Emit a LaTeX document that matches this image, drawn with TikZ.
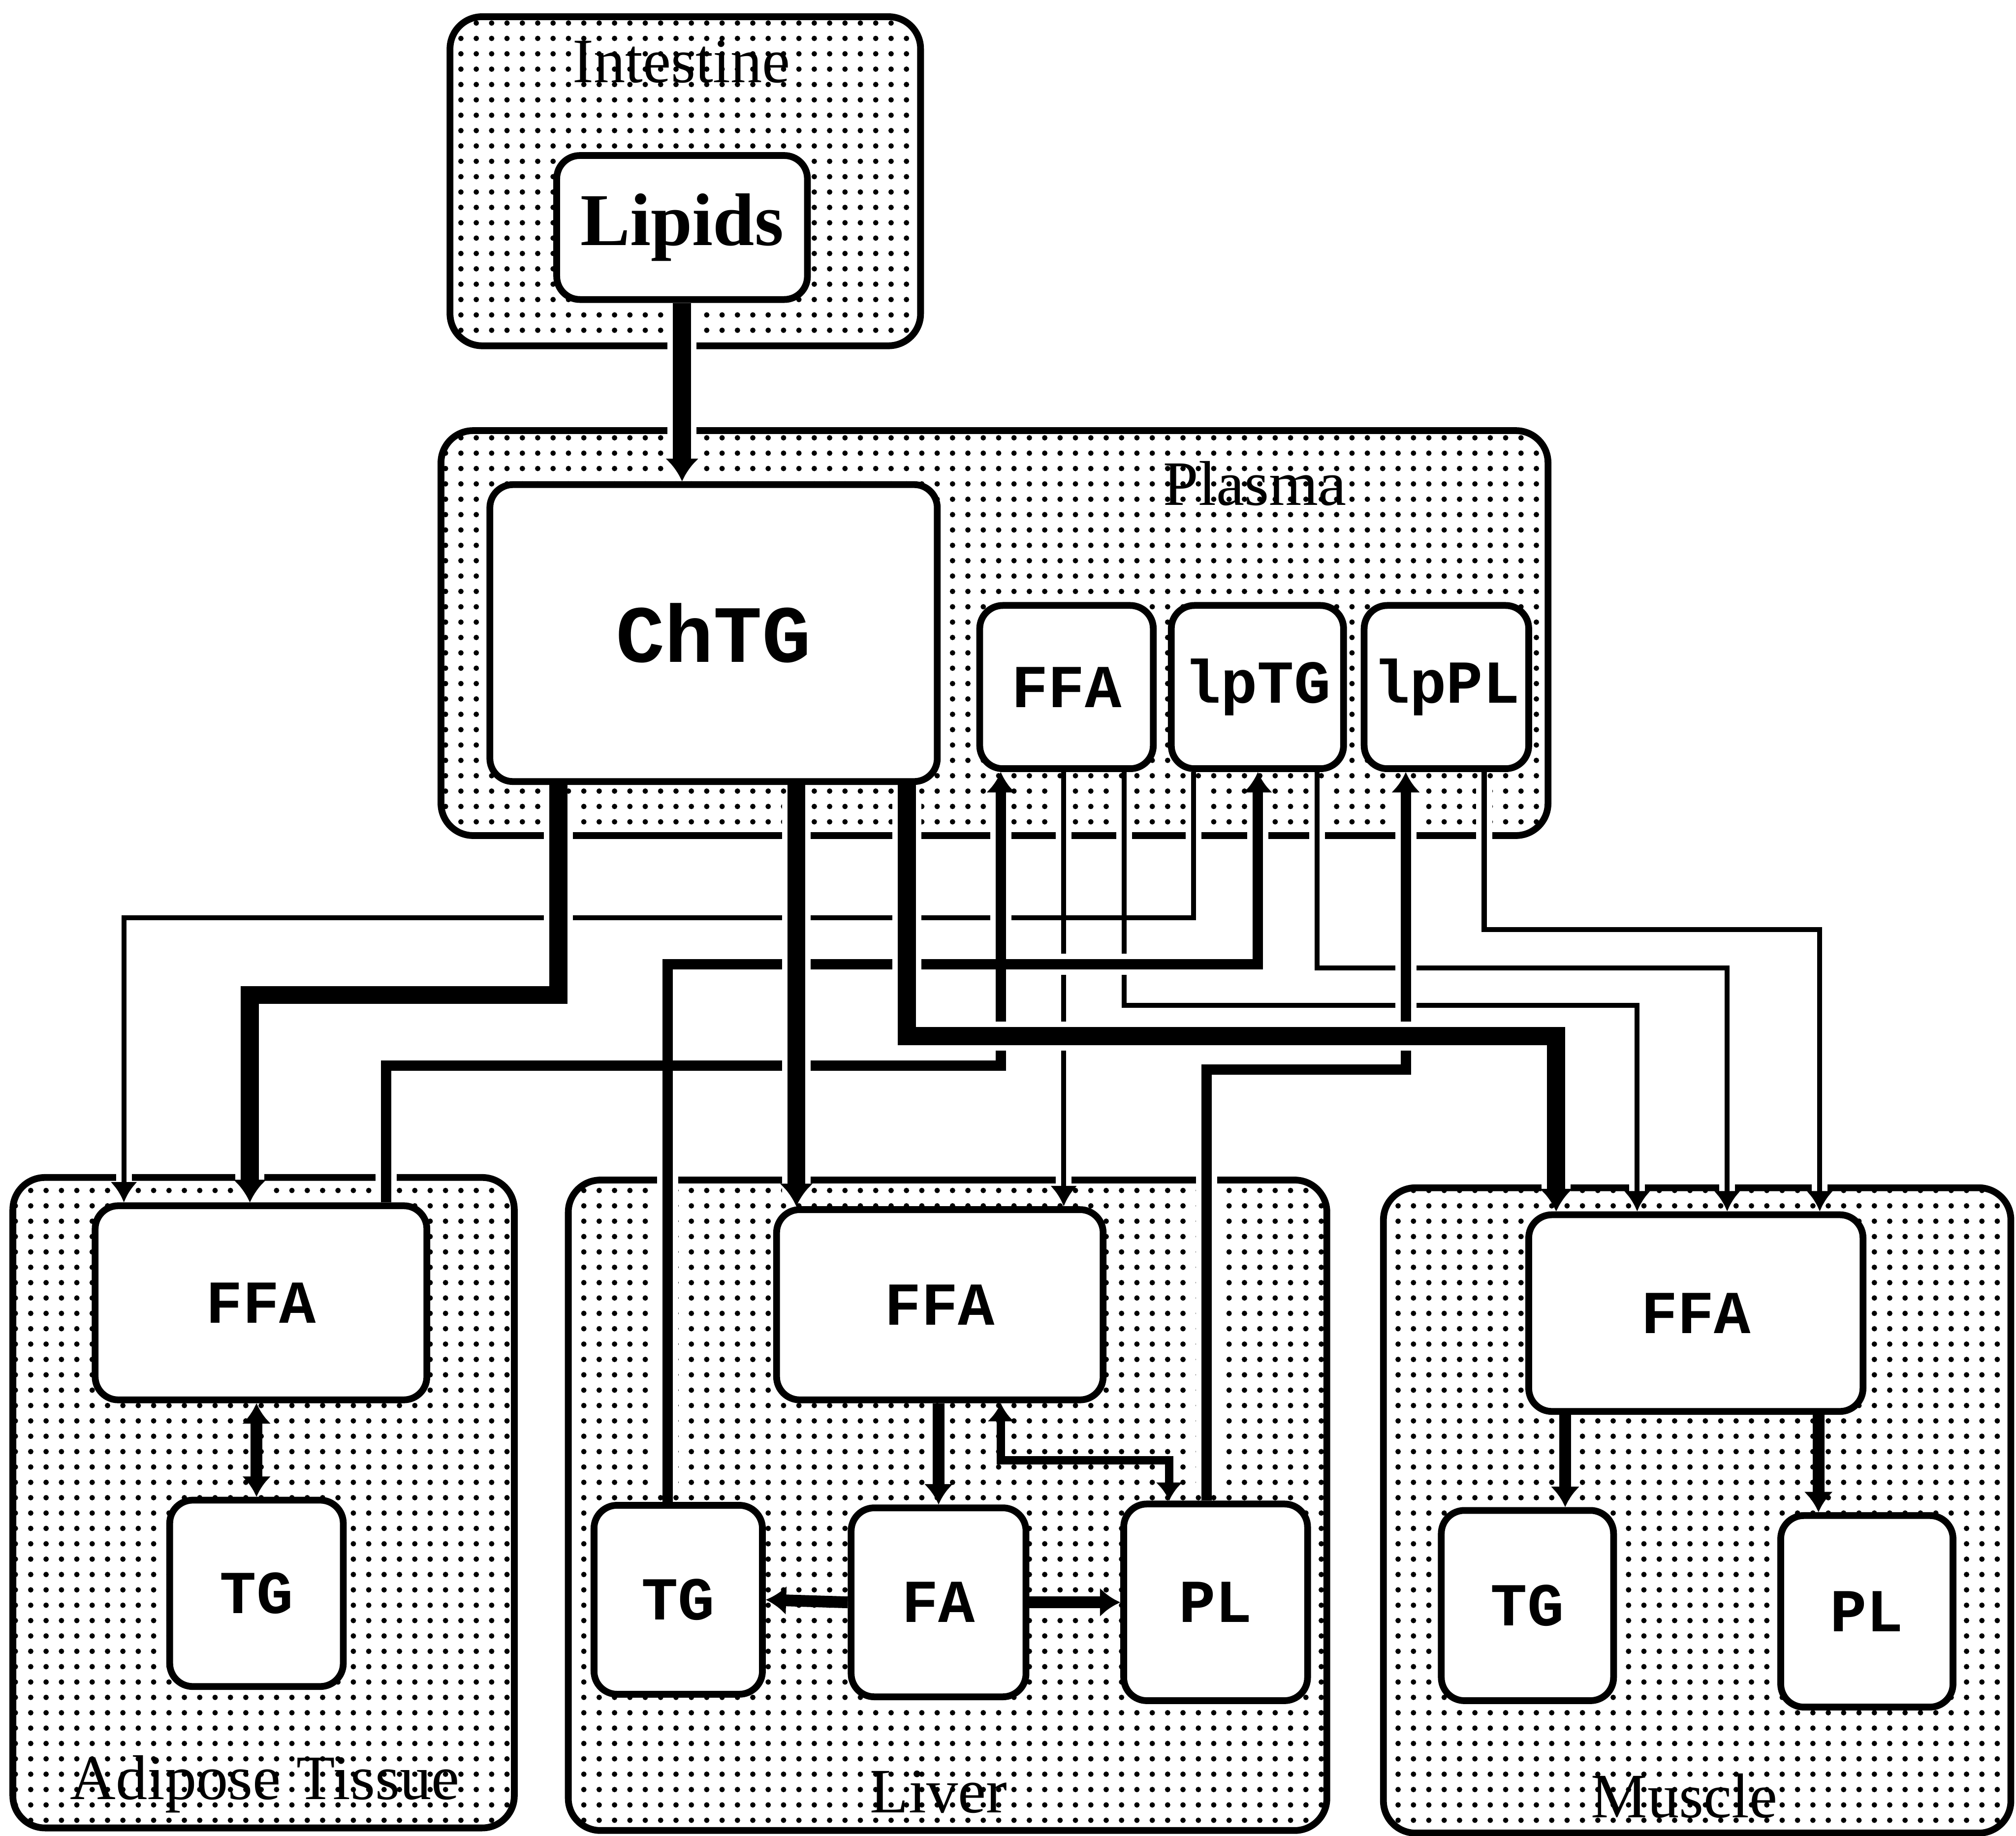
\documentclass[tikz,border=0pt]{standalone}
\usepackage{fontspec}
\setmainfont{Liberation Serif}
\setmonofont{Liberation Mono}
\usepackage{tikz}
\usetikzlibrary{arrows.meta,positioning,calc,patterns.meta}

\tikzset{
  region/.style={draw, line width=1.5pt, rounded corners=2.5mm,
                 pattern={Dots[distance=3.4pt,radius=0.6pt]}},
  cell/.style={draw, fill=white, line width=1.5pt, rounded corners=1.8mm,
               inner sep=0pt, font=\fontsize{13.5}{14}\ttfamily\bfseries},
  rlabel/.style={font=\fontsize{14}{15}\selectfont, inner sep=1pt},
  halo/.style={draw=white, line width=#1, shorten <=2pt, shorten >=2pt},
  thinlink/.style={line width=1.1pt, -{Latex[width=6pt,length=4.5pt]}},
  medlink/.style={line width=2.3pt, -{Latex[width=6.5pt,length=4.5pt]}},
  thicklink/.style={line width=4pt, -{Latex[width=7.5pt,length=5pt]}},
  innerlink/.style={line width=2.6pt, -{Latex[width=6.5pt,length=4.5pt]}},
}

% connectors, drawn twice: once as white halo, once in black
\newcommand\thinlinks[1]{%
  \draw[#1] (pt1) -- (pt1 |- ya) -| (ad1);
  \draw[#1] (pf2) -- (pf2 |- lvffa.north);
  \draw[#1] (pf3) -- (pf3 |- yd) -| (mu2);
  \draw[#1] (pt3) -- (pt3 |- ye) -| (mu3);
  \draw[#1] (pp2) -- (pp2 |- yg) -| (mu4);
}
\newcommand\medlinks[1]{%
  \draw[#1] (lv1) -- (lv1 |- yb) -| (pt2);
  \draw[#1] (ad3) -- (ad3 |- yp) -| (pf1);
  \draw[#1] (lv3) -- (lv3 |- yf) -| (pp1);
}
\newcommand\thicklinks[1]{%
  \draw[#1] (lipids.south) -- (lipids.south |- chtg.north);
  \draw[#1] (ch1) -- (ch1 |- yt2) -| (ad2);
  \draw[#1] (ch2) -- (ch2 |- lvffa.north);
  \draw[#1] (ch3) -- (ch3 |- yt4) -| (mu1);
}

\begin{document}
\begin{tikzpicture}[x=0.1mm, y=-0.1mm]
\useasboundingbox (0,0) rectangle (1568,1428);

% compartments
\draw[region] (350,13) rectangle (716,269);
\draw[region] (343,335) rectangle (1204,650);
\draw[region] (10,916) rectangle (400,1422);
\draw[region] (442,918) rectangle (1032,1424);
\draw[region] (1076,924) rectangle (1564,1426);

\node[rlabel] (intestine) at (530,48) {Intestine};
\node[rlabel] (plasma) at (976,376) {Plasma};
\node[rlabel] (adipose) at (206,1388) {Adipose Tissue};
\node[rlabel] (liver) at (730,1394) {Liver};
\node[rlabel] (muscle) at (1310,1397) {Muscle};

% pools
\node[cell, minimum width=19.5mm, minimum height=11.2mm,
      font=\fontsize{16.5}{18}\rmfamily\bfseries] (lipids) at (530.5,177) {Lipids};
\node[cell, minimum width=34.8mm, minimum height=23.1mm,
      font=\fontsize{18}{20}\ttfamily\bfseries] (chtg) at (555,492.5) {ChTG};
\node[cell, minimum width=13.5mm, minimum height=12.7mm] (pffa) at (829.5,534.5) {FFA};
\node[cell, minimum width=13.4mm, minimum height=12.7mm] (lptg) at (978,534.5) {lpTG};
\node[cell, minimum width=12.8mm, minimum height=12.7mm] (lppl) at (1125,534.5) {lpPL};

\node[cell, minimum width=25.8mm, minimum height=15.1mm] (adffa) at (203,1013.5) {FFA};
\node[cell, minimum width=13.5mm, minimum height=14.5mm] (adtg) at (199.5,1239.5) {TG};

\node[cell, minimum width=25.4mm, minimum height=14.8mm] (lvffa) at (731,1015) {FFA};
\node[cell, minimum width=13.1mm, minimum height=14.7mm] (lvtg) at (527.5,1244.5) {TG};
\node[cell, minimum width=13.6mm, minimum height=14.7mm] (lvfa) at (730,1246.5) {FA};
\node[cell, minimum width=14.3mm, minimum height=15.3mm] (lvpl) at (945.5,1246.5) {PL};

\node[cell, minimum width=26mm, minimum height=15.3mm] (muffa) at (1319,1021.5) {FFA};
\node[cell, minimum width=13.4mm, minimum height=14.8mm] (mutg) at (1188,1249) {TG};
\node[cell, minimum width=13.4mm, minimum height=14.9mm] (mupl) at (1452,1253.5) {PL};

% ports on the pools
\coordinate (ch1) at ([xshift=5.6mm]chtg.south west);
\coordinate (ch2) at ([xshift=24.1mm]chtg.south west);
\coordinate (ch3) at ([xshift=32.7mm]chtg.south west);
\coordinate (pf1) at ([xshift=1.9mm]pffa.south west);
\coordinate (pf2) at ([xshift=6.8mm]pffa.south west);
\coordinate (pf3) at ([xshift=11.5mm]pffa.south west);
\coordinate (pt1) at ([xshift=2mm]lptg.south west);
\coordinate (pt2) at ([xshift=7mm]lptg.south west);
\coordinate (pt3) at ([xshift=11.6mm]lptg.south west);
\coordinate (pp1) at ([xshift=3.5mm]lppl.south west);
\coordinate (pp2) at ([xshift=9.6mm]lppl.south west);
\coordinate (ad1) at ([xshift=2.5mm]adffa.north west);
\coordinate (ad2) at ([xshift=12.3mm]adffa.north west);
\coordinate (ad3) at ([xshift=22.9mm]adffa.north west);
\coordinate (lv1) at ([xshift=6mm]lvtg.north west);
\coordinate (lv3) at ([xshift=6.7mm]lvpl.north west);
\coordinate (mu1) at ([xshift=2.4mm]muffa.north west);
\coordinate (mu2) at ([xshift=8.7mm]muffa.north west);
\coordinate (mu3) at ([xshift=15.7mm]muffa.north west);
\coordinate (mu4) at ([xshift=22.9mm]muffa.north west);

% levels of the horizontal runs
\coordinate (ya) at (0,714);
\coordinate (yg) at (0,723);
\coordinate (yb) at (0,750);
\coordinate (ye) at (0,753);
\coordinate (yt2) at (0,774);
\coordinate (yd) at (0,782);
\coordinate (yt4) at (0,806);
\coordinate (yp) at (0,829);
\coordinate (yf) at (0,832);

\thinlinks{halo=3.5pt}
\thinlinks{thinlink}
\medlinks{halo=4.7pt}
\medlinks{medlink}
\thicklinks{halo=6.4pt}
\thicklinks{thicklink}

% inside the tissues
\draw[innerlink, {Latex[width=6.5pt,length=4.5pt]}-{Latex[width=6.5pt,length=4.5pt]}]
  (adtg.north |- adffa.south) -- (adtg.north);
\draw[innerlink] (lvfa.north |- lvffa.south) -- (lvfa.north);
\draw[innerlink] (lvfa.west) -- (lvtg.east);
\draw[innerlink] (lvfa.east) -- (lvpl.west);
\coordinate (lf1) at ([xshift=17.7mm]lvffa.south west);
\coordinate (lp1) at ([xshift=3.8mm]lvpl.north west);
\draw[medlink, line width=1.9pt, {Latex[width=6pt,length=4pt]}-{Latex[width=6pt,length=4pt]}]
  (lf1) -- (lf1 |- 0,1136) -| (lp1);
\coordinate (mt1) at ([xshift=9.9mm]mutg.north west);
\coordinate (mp1) at ([xshift=3.2mm]mupl.north west);
\draw[innerlink] (mt1 |- muffa.south) -- (mt1);
\draw[innerlink] (mp1 |- muffa.south) -- (mp1);

\end{tikzpicture}
\end{document}
